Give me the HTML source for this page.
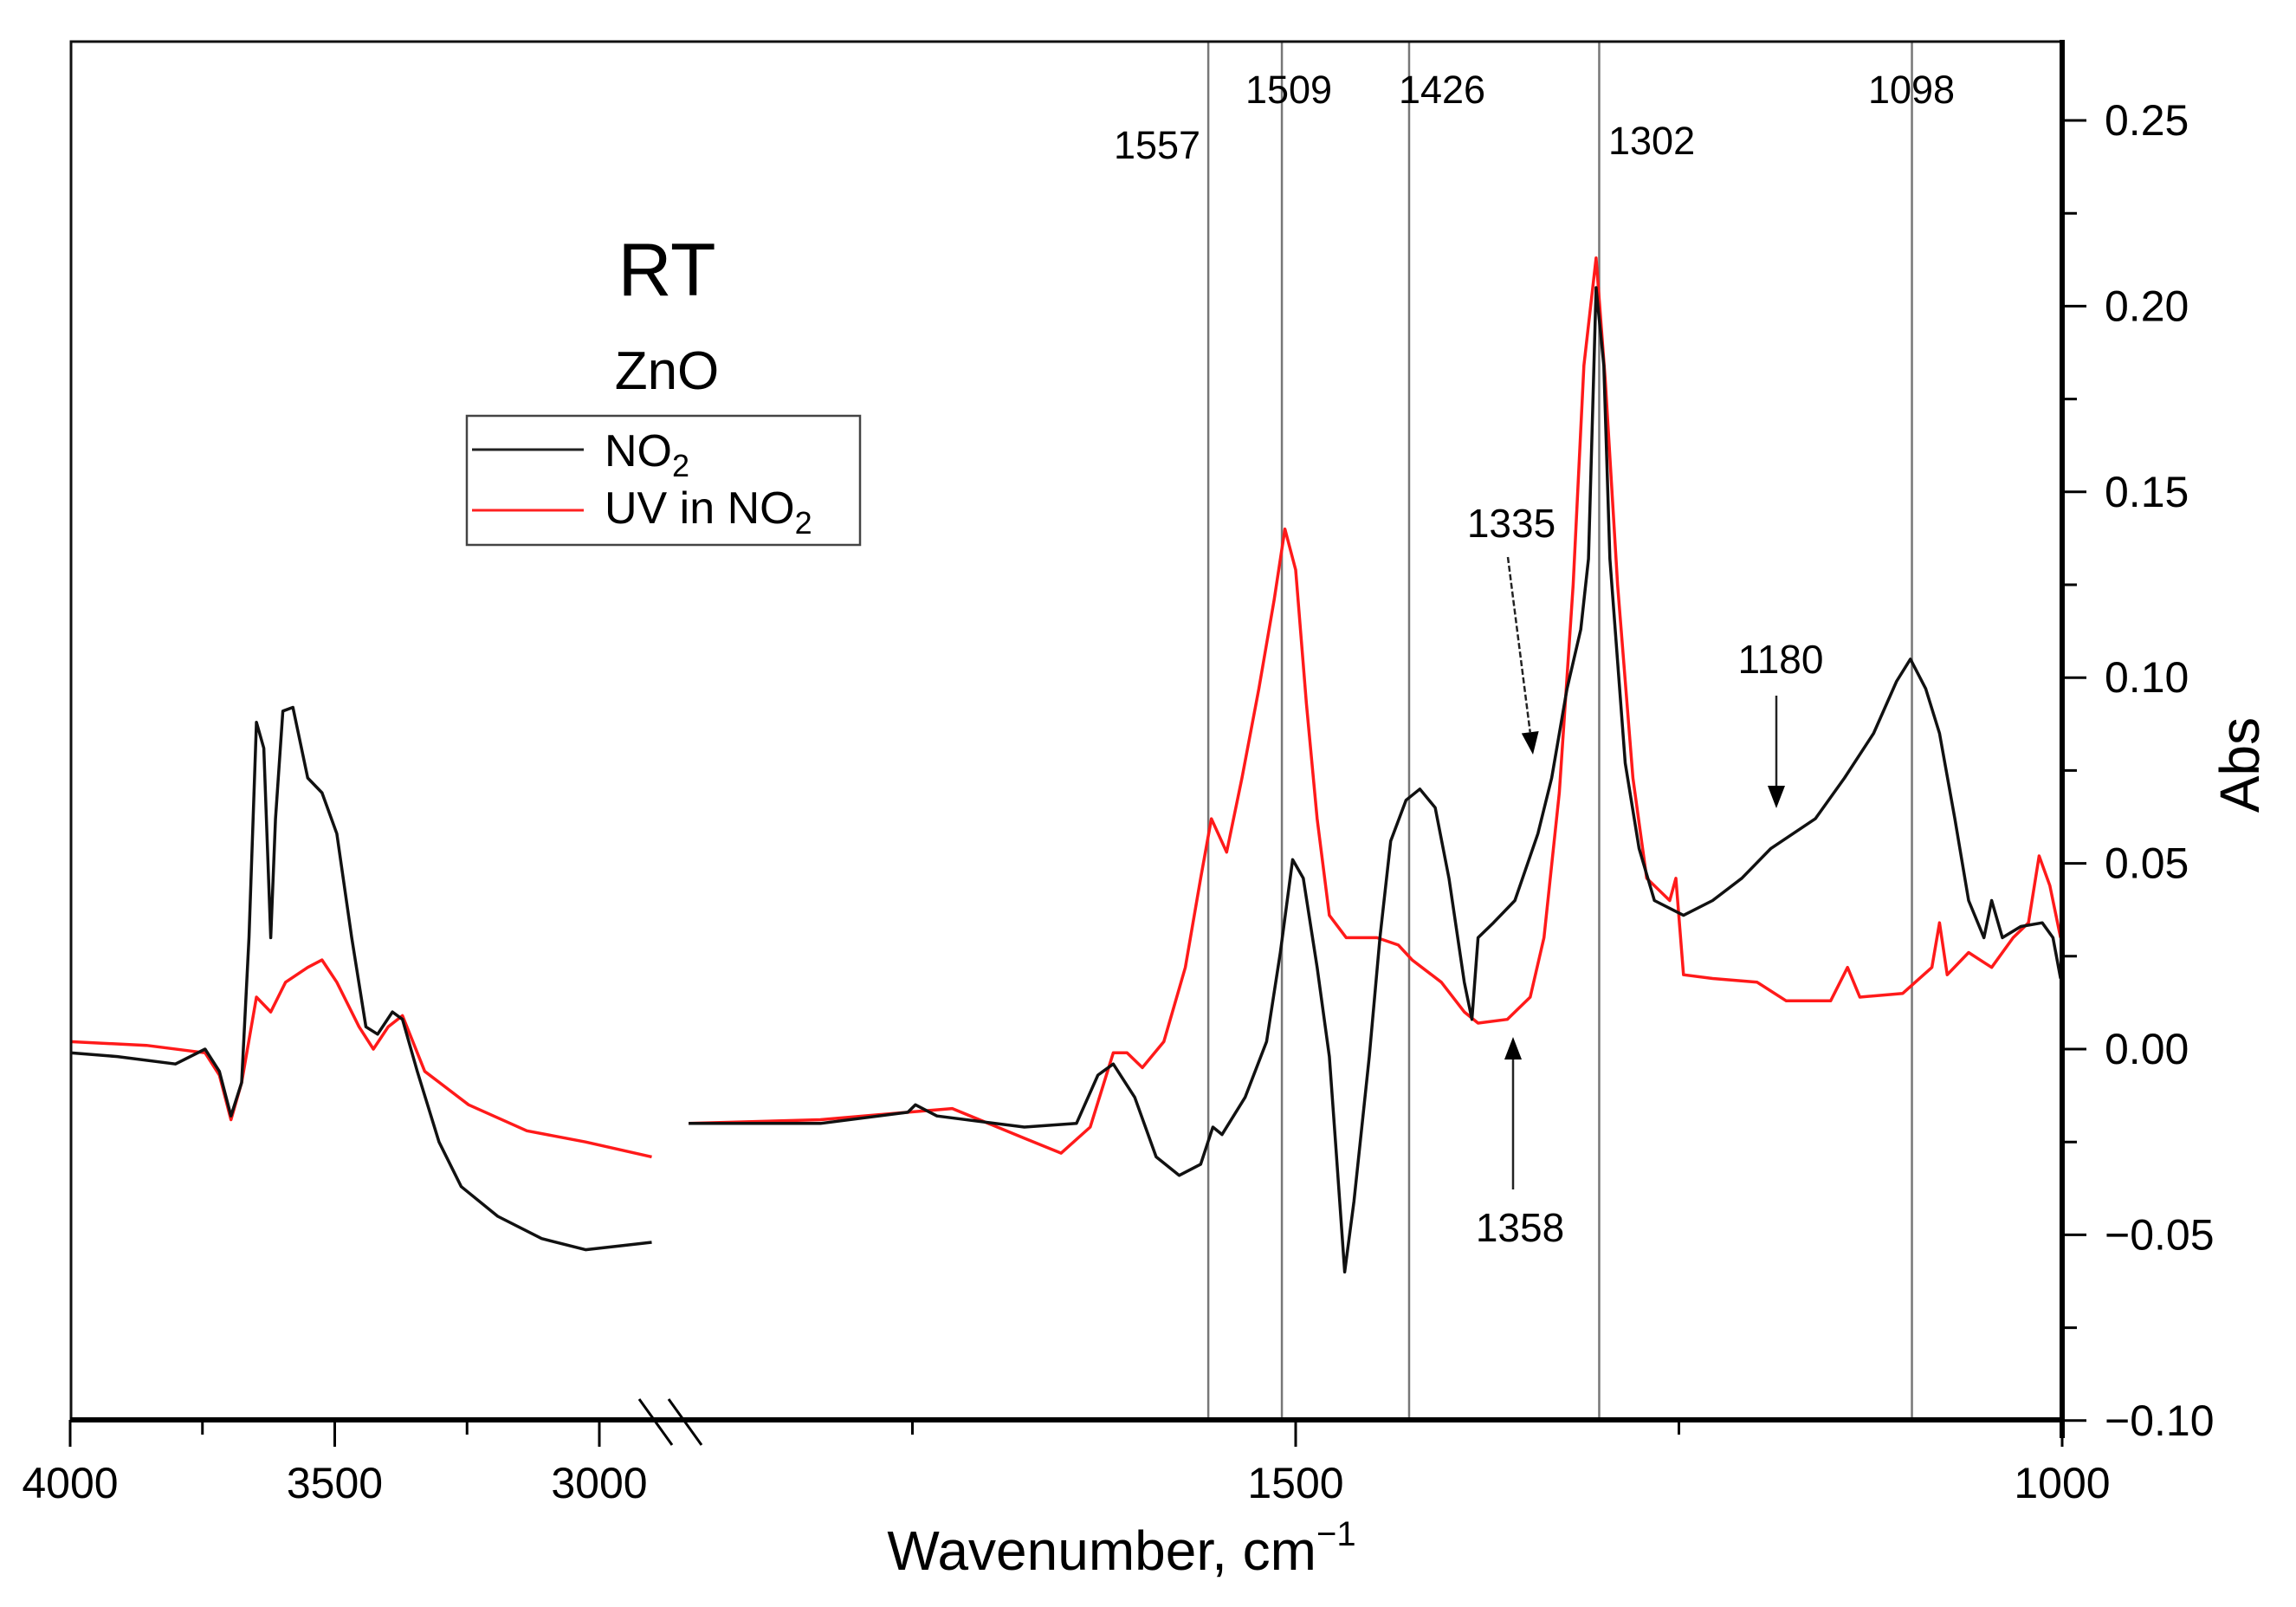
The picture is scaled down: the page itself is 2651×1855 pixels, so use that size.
<!DOCTYPE html>
<html><head><meta charset="utf-8"><style>
html,body{margin:0;padding:0;background:#fff;}
svg{display:block;font-family:"Liberation Sans",sans-serif;}
</style></head><body>
<svg id="chart" width="2651" height="1855" viewBox="0 0 2651 1855" xmlns="http://www.w3.org/2000/svg">
<g id="grid"></g>
<g id="series"></g>
<rect x="82" y="48" width="2298" height="1590" fill="none" stroke="#111" stroke-width="3"/>
<line x1="81" y1="1639" x2="2384" y2="1639" stroke="#000" stroke-width="6"/>
<line x1="2381" y1="46" x2="2381" y2="1660" stroke="#000" stroke-width="6"/>
<g id="axes"></g>
<g stroke="#000" stroke-width="3">
<line x1="738" y1="1615" x2="776" y2="1668"/><line x1="772" y1="1615" x2="810" y2="1668"/>
</g>
<text x="1295" y="1812" font-size="64" text-anchor="middle">Wavenumber, cm<tspan font-size="40" dy="-28">−1</tspan></text>
<text transform="translate(2608,883) rotate(-90)" font-size="64" text-anchor="middle">Abs</text>
<text x="770" y="341" font-size="86" text-anchor="middle">RT</text>
<text x="770" y="449" font-size="62" text-anchor="middle">ZnO</text>
<g>
<rect x="539" y="480" width="454" height="149" fill="#fff" stroke="#444" stroke-width="2.5"/>
<line x1="545" y1="519" x2="674" y2="519" stroke="#222" stroke-width="3"/>
<text x="698" y="538" font-size="52">NO<tspan font-size="36" dy="12">2</tspan></text>
<line x1="545" y1="589" x2="674" y2="589" stroke="#ff2020" stroke-width="3"/>
<text x="698" y="604" font-size="52">UV in NO<tspan font-size="36" dy="12">2</tspan></text>
</g>
<g id="annot"></g>
</svg>
<script>
const peakPositions = [1557, 1509, 1426, 1302, 1098];
const yTicks = [-0.10, -0.05, 0.00, 0.05, 0.10, 0.15, 0.20, 0.25];
const yTickLabels = ["\u22120.10","\u22120.05","0.00","0.05","0.10","0.15","0.20","0.25"];
const xTicksLeft = [4000, 3500, 3000];
const xMinorLeft = [3750, 3250];
const xTicksRight = [1500, 1000];
const xMinorRight = [1750, 1250];

const no2LeftWn = [4000,3911,3801,3745,3718,3696,3676,3662,3648,3634,3621,3612,3598,3579,3551,3524,3496,3468,3441,3419,3391,3372,3344,3303,3261,3192,3109,3026,2901];
const no2LeftAbs = [-0.001,-0.002,-0.004,0.000,-0.006,-0.018,-0.009,0.030,0.088,0.081,0.030,0.062,0.091,0.092,0.073,0.069,0.058,0.030,0.006,0.004,0.010,0.008,-0.006,-0.025,-0.037,-0.045,-0.051,-0.054,-0.052];
const uvLeftWn = [4000,3856,3745,3718,3696,3676,3648,3621,3593,3551,3524,3496,3454,3427,3399,3372,3330,3247,3137,3026,2901];
const uvLeftAbs = [0.002,0.001,-0.001,-0.007,-0.019,-0.009,0.014,0.010,0.018,0.022,0.024,0.018,0.006,0.000,0.006,0.009,-0.006,-0.015,-0.022,-0.025,-0.029];

const no2RightWn = [1896,1810,1753,1748,1734,1677,1643,1629,1619,1605,1591,1576,1562,1554,1548,1533,1519,1510,1502,1495,1486,1478,1474,1468,1462,1452,1445,1438,1428,1419,1409,1400,1390,1385,1381,1371,1357,1342,1333,1323,1314,1309,1304,1299,1295,1285,1276,1266,1247,1228,1209,1190,1161,1142,1123,1108,1099,1089,1080,1070,1061,1051,1046,1039,1027,1013,1006,1001];
const no2RightAbs = [-0.020,-0.020,-0.017,-0.015,-0.018,-0.021,-0.020,-0.007,-0.004,-0.013,-0.029,-0.034,-0.031,-0.021,-0.023,-0.013,0.002,0.026,0.051,0.046,0.022,-0.002,-0.025,-0.060,-0.041,-0.002,0.030,0.056,0.067,0.070,0.065,0.046,0.018,0.008,0.030,0.034,0.040,0.058,0.073,0.097,0.113,0.132,0.205,0.184,0.132,0.077,0.054,0.040,0.036,0.040,0.046,0.054,0.062,0.073,0.085,0.099,0.105,0.097,0.085,0.062,0.040,0.030,0.040,0.030,0.033,0.034,0.030,0.019];
const uvRightWn = [1896,1810,1753,1724,1677,1653,1634,1619,1610,1600,1586,1572,1562,1555,1545,1535,1524,1514,1507,1500,1493,1486,1478,1467,1447,1433,1424,1405,1390,1381,1362,1347,1338,1328,1319,1312,1304,1298,1290,1280,1271,1256,1252,1247,1228,1199,1180,1151,1140,1132,1104,1085,1080,1075,1061,1046,1032,1022,1015,1008,1001];
const uvRightAbs = [-0.020,-0.019,-0.017,-0.016,-0.024,-0.028,-0.021,-0.001,-0.001,-0.005,0.002,0.022,0.046,0.062,0.053,0.073,0.097,0.121,0.140,0.129,0.093,0.062,0.036,0.030,0.030,0.028,0.024,0.018,0.010,0.007,0.008,0.014,0.030,0.069,0.125,0.184,0.213,0.180,0.125,0.073,0.046,0.040,0.046,0.020,0.019,0.018,0.013,0.013,0.022,0.014,0.015,0.022,0.034,0.020,0.026,0.022,0.030,0.034,0.052,0.044,0.030];

const NS="http://www.w3.org/2000/svg";
function xL(w){return 81+(4000-w)*0.611;}
function xR(w){return 1496+(1500-w)*1.77;}
function y(v){return 1211-v*4288;}
function mk(tag,attrs,parent){const e=document.createElementNS(NS,tag);for(const k in attrs)e.setAttribute(k,attrs[k]);parent.appendChild(e);return e;}

const grid=document.getElementById('grid');
peakPositions.forEach(p=>{
  const l=mk('line',{x1:xR(p),x2:xR(p),y1:48,y2:1638,stroke:'#777','stroke-width':2.5},grid);
  
  
});

const series=document.getElementById('series');
function path(wn,ab,fx,color,name){
  const d=wn.map((w,i)=>(i?'L':'M')+fx(w).toFixed(1)+','+y(ab[i]).toFixed(1)).join(' ');
  const p=mk('path',{d:d,fill:'none',stroke:color,'stroke-width':3.5,'stroke-linejoin':'round'},series);
  
  
}
path(uvLeftWn,uvLeftAbs,xL,'#ff1a1a','uv-series-high-wn');
path(uvRightWn,uvRightAbs,xR,'#ff1a1a','uv-series-low-wn');
path(no2LeftWn,no2LeftAbs,xL,'#111','no2-series-high-wn');
path(no2RightWn,no2RightAbs,xR,'#111','no2-series-low-wn');

const axes=document.getElementById('axes');
yTicks.forEach((v,i)=>{
  const t=mk('line',{x1:2381,x2:2409,y1:y(v),y2:y(v),stroke:'#000','stroke-width':3},axes);
  
  
  const tx=mk('text',{x:2430,y:y(v)+17,'font-size':50},axes);
  tx.textContent=yTickLabels[i];
  
  
  if(i<yTicks.length-1){
    const m=mk('line',{x1:2381,x2:2398,y1:y(v+0.025),y2:y(v+0.025),stroke:'#000','stroke-width':3},axes);
    
    
  }
});
function xtick(x,major,label){
  const t=mk('line',{x1:x,x2:x,y1:1639,y2:1639+(major?31:17),stroke:'#000','stroke-width':3},axes);
  
  
  if(label!==undefined){
    const tx=mk('text',{x:x,y:1729,'font-size':50,'text-anchor':'middle'},axes);
    tx.textContent=label;
    
    
  }
}
xTicksLeft.forEach(w=>xtick(xL(w),true,String(w)));
xMinorLeft.forEach(w=>xtick(xL(w),false));
xTicksRight.forEach(w=>xtick(xR(w),true,String(w)));
xMinorRight.forEach(w=>xtick(xR(w),false));

const annot=document.getElementById('annot');
const peakLabelX=[1336,1488,1665,1857,2207];
const peakLabelY=[183,119,119,178,119];
const peakLabelAnchor=['middle','middle','middle','start','middle'];
peakPositions.forEach((p,i)=>{
  const t=mk('text',{x:peakLabelX[i],y:peakLabelY[i],'font-size':45,'text-anchor':peakLabelAnchor[i]},annot);
  t.textContent=String(p);
  
  
});
function arrow(x1,y1,x2,y2,name){
  const g=mk('g',{},annot);
  
  
  const a=Math.atan2(y2-y1,x2-x1),L=26,W=10;
  const bx=x2-L*Math.cos(a),by=y2-L*Math.sin(a);
  mk('line',{x1:x1,y1:y1,x2:bx,y2:by,stroke:'#222','stroke-width':2.5,'stroke-dasharray':name.indexOf('1335')>=0?'7,3':''},g);
  const px=-Math.sin(a)*W,py=Math.cos(a)*W;
  mk('polygon',{points:`${x2},${y2} ${bx+px},${by+py} ${bx-px},${by-py}`,fill:'#000'},g);
}
arrow(1741,643,1770,871,'arrow-1335');
arrow(2051,803,2051,933,'arrow-1180');
arrow(1747,1373,1747,1197,'arrow-1358');
[['1335',1745,620],['1180',2056,777],['1358',1755,1433]].forEach(a=>{
  const t=mk('text',{x:a[1],y:a[2],'font-size':46,'text-anchor':'middle'},annot);
  t.textContent=a[0];
  
  
});
</script>
</body></html>
